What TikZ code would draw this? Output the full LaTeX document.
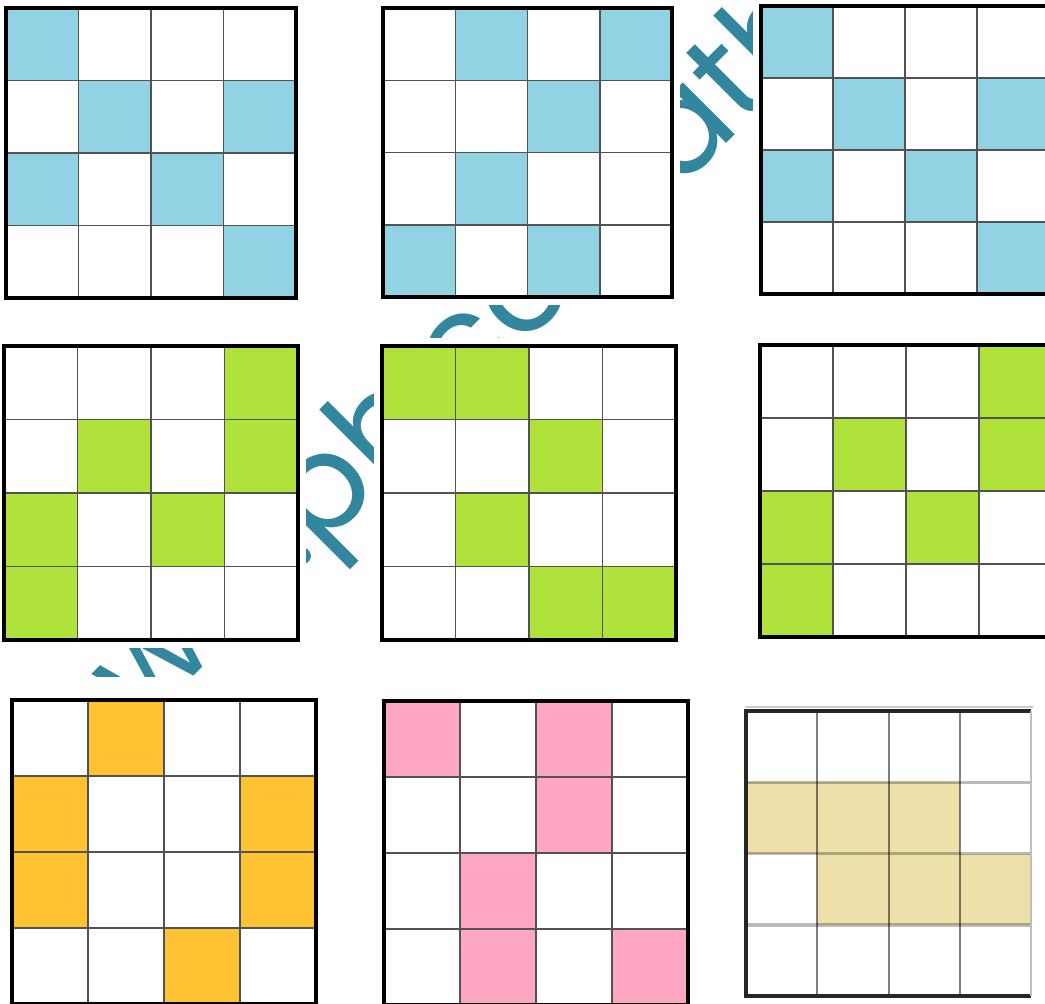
\documentclass[tikz,border=0pt]{standalone}
\usepackage{fontspec}
\newfontfamily\wmfont{Poppins}
\definecolor{cblue}{HTML}{92D3E3}
\definecolor{cgreen}{HTML}{AFE33B}
\definecolor{corange}{HTML}{FFC233}
\definecolor{cpink}{HTML}{FFA6C3}
\definecolor{ckhaki}{HTML}{EDE1A9}
\definecolor{cteal}{HTML}{32869E}
\tikzset{
  wm/.style={text=cteal, font=\wmfont\fontsize{67}{80}\selectfont, inner sep=0pt, outer sep=0pt, rotate=45},
  gridinner/.style={draw=black!68, line width=0.7pt},
  gridouter/.style={draw=black, line width=1.8pt},
}
\newcommand\cellgrid[6]{%
  \fill[white] ({#1-8},{#2-#6}) rectangle ({#1+4*#3+8},{#2+4*#3+8});
  \foreach \c/\r in {#5} \fill[#4] ({#1+(\c-1)*#3},{#2+(\r-1)*#3}) rectangle ++(#3,#3);
  \foreach \k in {1,2,3} {\draw[gridinner] ({#1+\k*#3},#2) -- ++(0,4*#3); \draw[gridinner] (#1,{#2+\k*#3}) -- ++(4*#3,0);}
  \draw[gridouter] (#1,#2) rectangle ++(4*#3,4*#3);
}
\begin{document}
\begin{tikzpicture}[x=0.5pt,y=-0.5pt]
\useasboundingbox (0,0) rectangle (1045,1003);
\clip (0,0) rectangle (1045,1003);
\fill[white] (0,0) rectangle (1045,1003);
% watermark
\node[wm, anchor=base west] (wmB) at (318,552) {ph.comath};
\node[wm, anchor=base east] (wmA) at (wmB.base west) {www.};
% row 1
\cellgrid{6}{8}{72.5}{cblue}{1/1,2/2,4/2,1/3,3/3,4/4}{8}
\cellgrid{383}{8}{72.3}{cblue}{2/1,4/1,3/2,2/3,1/4,3/4}{8}
\cellgrid{761}{6}{72}{cblue}{1/1,2/2,4/2,1/3,3/3,4/4}{8}
% row 2
\cellgrid{4}{346}{73.5}{cgreen}{4/1,2/2,4/2,1/3,3/3,1/4}{8}
\cellgrid{382}{346}{73.5}{cgreen}{1/1,2/1,3/2,2/3,3/4,4/4}{8}
\cellgrid{760}{345}{73}{cgreen}{4/1,2/2,4/2,1/3,3/3,1/4}{8}
% row 3
\cellgrid{12}{700}{76}{corange}{2/1,1/2,4/2,1/3,4/3,3/4}{23}
\cellgrid{384}{701}{76}{cpink}{1/1,3/1,3/2,2/3,2/4,4/4}{8}
% last grid (soft style)
\fill[white] (737,690) rectangle (1045,1003);
\draw[black!20, line width=1pt] (745,707) -- (1033,707);
\foreach \c/\r in {1/2,2/2,3/2,2/3,3/3,4/3}
  \fill[ckhaki] ({746+(\c-1)*71.3},{711+(\r-1)*71.3}) rectangle ++(71.3,71.3);
\foreach \k in {1,2,3} {
  \draw[black, opacity=0.27, line width=1.6pt] (746,{711+\k*71.3}) -- ++(285,0);
  \draw[black, opacity=0.5, line width=1.1pt] ({746+\k*71.3},711) -- ++(0,285);
}
\draw[black!85, line width=2pt] (1031,711) -- (746,711) -- (746,996) -- (1031,996);
\draw[black!25, line width=1.2pt] (1031,711) -- (1031,996);
\end{tikzpicture}
\end{document}
